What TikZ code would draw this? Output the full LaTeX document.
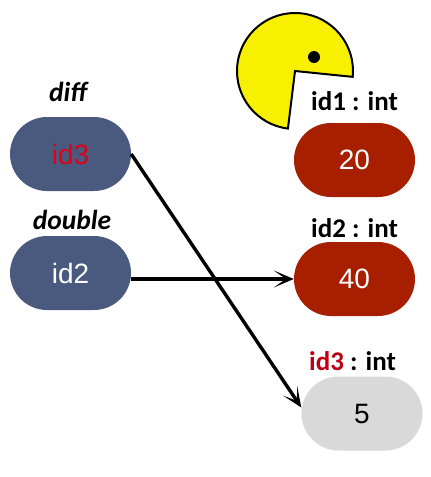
\documentclass[tikz,border=0pt]{standalone}
\usepackage{fontspec}
\setmainfont{Liberation Sans}
\newfontfamily\headfont{Carlito}
\usetikzlibrary{shapes.misc,arrows.meta,calc}
\definecolor{slateblue}{HTML}{4A5A7E}
\definecolor{brick}{HTML}{A81F00}
\definecolor{palegrey}{HTML}{D9D9D9}
\definecolor{idred}{HTML}{E00018}
\definecolor{pacyellow}{HTML}{F7F000}
\tikzset{
  pill/.style={rounded rectangle,draw=none,minimum width=121pt,minimum height=74pt,inner sep=0pt,font=\fontsize{28}{28}\selectfont},
  varbox/.style={pill,fill=slateblue,text=white},
  valbox/.style={pill,fill=brick,text=white},
  freebox/.style={pill,fill=palegrey,text=black},
  head/.style={font=\headfont\bfseries\fontsize{27}{27}\selectfont,inner sep=0pt,text=black},
  fname/.style={font=\headfont\bfseries\itshape\fontsize{27.5}{27.5}\selectfont,inner sep=0pt,text=black},
  link/.style={draw=black,line width=3.4pt,-{Stealth[length=20pt,width=17pt,inset=12pt]}},
}
\begin{document}
\begin{tikzpicture}[x=1pt,y=-1pt]
\useasboundingbox (0,0) rectangle (431,477);
\fill[white] (0,0) rectangle (431,477);
% pacman
\draw[fill=pacyellow,line width=2pt,line join=miter] (295pt,-71pt) -- ++(-5.8:58pt) arc[start angle=-5.8,end angle=263,radius=58pt] -- cycle;
\fill[black] (314pt,-57pt) circle[radius=6pt];
% variables
\node[fname] (ldiff) at (68,92) {diff};
\node[varbox] (a) at (70.5,154) {\textcolor{idred}{id3}};
\node[fname] (ldouble) at (72,220) {double};
\node[varbox] (b) at (70.5,273) {id2};
% values
\node[head] (l1) at (354.5,101) {id1 : int};
\node[valbox] (v1) at (354.5,160) {20};
\node[head] (l2) at (354.5,228) {id2 : int};
\node[valbox] (v2) at (354.5,279) {40};
\node[head] (l3) at (352.5,361) {\textcolor{idred!85!black}{id3} : int};
\node[freebox] (v3) at (362,413.5) {5};
% connectors
\draw[link] (a.east) -- ($(v3.west)+(0,-6)$);
\draw[link] ($(b.east)+(0,6)$) -- (v2.west);
\end{tikzpicture}
\end{document}
